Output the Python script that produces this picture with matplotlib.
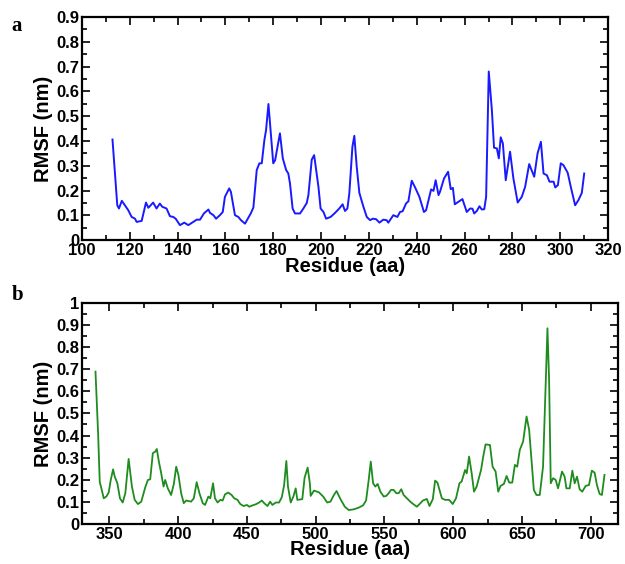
import matplotlib
matplotlib.use("Agg")
import matplotlib.pyplot as plt
from matplotlib.ticker import MultipleLocator, FuncFormatter

# panel a: residue 113-310 (blue)
res_a = [112.8, 114.8, 115.5, 116.7, 119.4, 120.8, 122.2, 122.9, 125.0, 126.8,
         127.8, 129.8, 131.2, 132.6, 133.6, 135.4, 136.8, 138.2, 139.2, 141.0,
         142.8, 144.5, 146.6, 148.0, 149.4, 151.0, 152.9, 153.6, 155.0, 156.1,
         157.7, 158.9, 159.8, 161.6, 162.3, 164.0, 165.4, 166.5, 168.2, 170.6,
         171.7, 173.1, 174.2, 175.2, 176.3, 177.0, 178.0, 180.0, 180.8, 182.8,
         184.0, 185.4, 186.3, 187.0, 188.1, 189.1, 191.2, 192.6, 194.0, 194.7,
         196.1, 197.1, 198.9, 199.8, 201.0, 202.1, 204.0, 205.8, 207.6, 209.0,
         210.0, 211.0, 211.8, 213.1, 213.9, 214.9, 216.0, 217.7, 219.1, 220.5,
         221.6, 223.0, 224.4, 226.0, 227.4, 228.1, 230.2, 231.9, 233.0, 234.1,
         235.5, 236.5, 237.9, 239.3, 241.1, 243.0, 243.9, 246.0, 247.0, 247.9,
         249.1, 249.7, 251.4, 253.1, 254.2, 255.1, 255.9, 257.4, 259.1, 260.9,
         262.3, 263.3, 264.0, 265.1, 266.2, 267.2, 268.2, 269.0, 270.1, 271.4,
         272.3, 273.5, 274.3, 275.1, 276.0, 277.2, 279.0, 280.4, 282.2, 283.9,
         285.3, 287.0, 289.1, 290.5, 291.9, 293.0, 294.4, 295.5, 297.2, 297.9,
         299.0, 300.2, 301.3, 303.1, 304.4, 306.2, 307.6, 309.0, 310.0]
rmsf_a = [0.406, 0.141, 0.128, 0.159, 0.121, 0.094, 0.087, 0.074, 0.078, 0.152,
          0.131, 0.152, 0.128, 0.148, 0.135, 0.128, 0.097, 0.094, 0.087, 0.061,
          0.071, 0.061, 0.074, 0.083, 0.083, 0.108, 0.124, 0.110, 0.101, 0.087,
          0.101, 0.114, 0.175, 0.209, 0.195, 0.101, 0.094, 0.081, 0.067, 0.108,
          0.132, 0.283, 0.310, 0.310, 0.404, 0.444, 0.549, 0.310, 0.323, 0.431,
          0.330, 0.283, 0.269, 0.229, 0.128, 0.108, 0.108, 0.128, 0.150, 0.182,
          0.325, 0.343, 0.215, 0.128, 0.114, 0.087, 0.094, 0.110, 0.128, 0.145,
          0.118, 0.128, 0.188, 0.377, 0.421, 0.296, 0.191, 0.135, 0.094, 0.081,
          0.087, 0.085, 0.071, 0.083, 0.081, 0.071, 0.101, 0.094, 0.114, 0.117,
          0.148, 0.157, 0.240, 0.213, 0.175, 0.114, 0.121, 0.205, 0.199, 0.242,
          0.182, 0.195, 0.249, 0.276, 0.206, 0.211, 0.145, 0.155, 0.166, 0.114,
          0.128, 0.127, 0.108, 0.118, 0.137, 0.124, 0.125, 0.175, 0.680, 0.525,
          0.373, 0.370, 0.330, 0.415, 0.390, 0.242, 0.357, 0.249, 0.152, 0.175,
          0.215, 0.307, 0.256, 0.350, 0.397, 0.269, 0.262, 0.236, 0.236, 0.213,
          0.222, 0.310, 0.303, 0.272, 0.215, 0.141, 0.162, 0.191, 0.269]

# panel b: residue 340-710 (green)
res_b = [339.9, 341.8, 343.0, 344.2, 345.9, 347.8, 349.5, 351.0, 352.7, 353.9,
         355.8, 357.7, 359.7, 361.6, 364.0, 366.4, 368.4, 370.8, 373.2, 376.1,
         378.0, 379.7, 381.6, 383.3, 384.5, 386.0, 387.7, 389.4, 390.6, 392.5,
         394.9, 396.9, 398.6, 400.2, 402.2, 404.1, 405.8, 409.4, 411.4, 413.5,
         415.5, 417.9, 419.6, 422.0, 423.4, 425.4, 426.8, 428.7, 430.7, 432.4,
         434.1, 436.5, 438.9, 440.8, 443.2, 445.2, 447.6, 450.0, 451.7, 454.1,
         456.5, 458.9, 460.9, 462.6, 465.0, 466.9, 468.6, 471.0, 473.4, 475.4,
         477.1, 478.7, 479.9, 481.9, 483.8, 485.5, 486.7, 490.3, 492.0, 494.2,
         495.8, 496.4, 498.8, 502.4, 505.5, 508.4, 510.8, 513.3, 515.2, 518.1,
         521.2, 524.1, 527.7, 531.4, 534.5, 536.7, 538.6, 540.1, 541.8, 543.4,
         545.1, 547.1, 549.5, 551.4, 553.1, 554.8, 556.7, 558.7, 560.4, 562.3,
         564.0, 566.4, 568.8, 571.2, 573.6, 575.6, 578.0, 580.9, 582.8, 585.2,
         586.9, 588.6, 590.1, 591.8, 594.2, 597.1, 599.7, 602.1, 604.6, 606.2,
         608.7, 609.9, 611.6, 613.5, 615.2, 617.1, 620.3, 621.9, 623.6, 626.8,
         628.7, 630.9, 632.8, 634.5, 636.9, 638.9, 640.8, 643.0, 644.9, 646.6,
         648.5, 650.9, 653.4, 655.3, 657.0, 658.7, 660.6, 663.0, 665.4, 667.4,
         668.6, 669.8, 671.0, 672.7, 674.6, 676.3, 679.2, 681.1, 682.4, 684.8,
         686.7, 688.4, 690.1, 692.0, 693.9, 696.4, 698.8, 700.9, 702.9, 704.6,
         706.5, 708.2, 710.1]
rmsf_b = [0.689, 0.410, 0.190, 0.161, 0.116, 0.124, 0.142, 0.199, 0.247, 0.214,
          0.184, 0.116, 0.097, 0.139, 0.294, 0.169, 0.109, 0.090, 0.101, 0.166,
          0.199, 0.202, 0.320, 0.327, 0.339, 0.282, 0.229, 0.169, 0.199, 0.161,
          0.131, 0.181, 0.259, 0.222, 0.139, 0.094, 0.106, 0.101, 0.116, 0.189,
          0.139, 0.094, 0.086, 0.124, 0.116, 0.184, 0.116, 0.097, 0.109, 0.106,
          0.134, 0.142, 0.131, 0.116, 0.109, 0.090, 0.081, 0.086, 0.078, 0.084,
          0.089, 0.097, 0.106, 0.094, 0.081, 0.101, 0.086, 0.097, 0.097, 0.121,
          0.176, 0.285, 0.169, 0.097, 0.124, 0.161, 0.109, 0.112, 0.210, 0.255,
          0.184, 0.127, 0.151, 0.143, 0.124, 0.097, 0.101, 0.131, 0.149, 0.112,
          0.078, 0.063, 0.066, 0.074, 0.084, 0.106, 0.199, 0.282, 0.184, 0.169,
          0.181, 0.146, 0.124, 0.127, 0.139, 0.154, 0.154, 0.139, 0.139, 0.157,
          0.131, 0.116, 0.101, 0.089, 0.078, 0.090, 0.106, 0.113, 0.081, 0.112,
          0.196, 0.187, 0.154, 0.116, 0.109, 0.109, 0.090, 0.116, 0.184, 0.192,
          0.244, 0.229, 0.305, 0.229, 0.146, 0.169, 0.244, 0.305, 0.360, 0.357,
          0.259, 0.237, 0.146, 0.172, 0.181, 0.217, 0.187, 0.187, 0.267, 0.259,
          0.335, 0.373, 0.486, 0.425, 0.290, 0.154, 0.131, 0.131, 0.259, 0.652,
          0.885, 0.652, 0.184, 0.207, 0.199, 0.161, 0.237, 0.214, 0.161, 0.161,
          0.241, 0.184, 0.214, 0.157, 0.146, 0.172, 0.176, 0.241, 0.232, 0.176,
          0.136, 0.131, 0.222]

plt.rcParams["font.family"] = "Liberation Sans"
plt.rcParams["font.weight"] = "bold"

fig = plt.figure(figsize=(6.25, 5.64), dpi=100)
ax_a = fig.add_axes([0.131, 0.574, 0.842, 0.396])
ax_b = fig.add_axes([0.131, 0.071, 0.858, 0.392])

ax_a.plot(res_a, rmsf_a, color="#1a1aff", linewidth=1.4)
ax_b.plot(res_b, rmsf_b, color="#1f8c1f", linewidth=1.3)

ax_a.set_xlim(100, 320)
ax_a.set_ylim(0, 0.9)
ax_a.xaxis.set_major_locator(MultipleLocator(20))
ax_a.xaxis.set_minor_locator(MultipleLocator(10))

ax_b.set_xlim(330, 720)
ax_b.set_ylim(0, 1)
ax_b.xaxis.set_major_locator(MultipleLocator(50))
ax_b.xaxis.set_minor_locator(MultipleLocator(25))

fmt = FuncFormatter(lambda v, pos: f"{v:g}")
for ax in (ax_a, ax_b):
    ax.yaxis.set_major_locator(MultipleLocator(0.1))
    ax.yaxis.set_minor_locator(MultipleLocator(0.05))
    ax.yaxis.set_major_formatter(fmt)
    ax.tick_params(which="both", direction="in", top=True, right=True,
                   width=1.2, labelsize=12, pad=2)
    ax.tick_params(which="major", length=6)
    ax.tick_params(which="minor", length=3.5)
    for spine in ax.spines.values():
        spine.set_linewidth(1.6)
    ax.set_xlabel("Residue (aa)", fontsize=14.5, fontweight="bold", labelpad=-1)
    ax.set_ylabel("RMSF (nm)", fontsize=14.5, fontweight="bold", labelpad=2)

fig.text(0.018, 0.945, "a", family="Liberation Serif", fontsize=15, fontweight="bold")
fig.text(0.018, 0.468, "b", family="Liberation Serif", fontsize=15, fontweight="bold")

fig.savefig("out.png", dpi=100)
plt.close(fig)
